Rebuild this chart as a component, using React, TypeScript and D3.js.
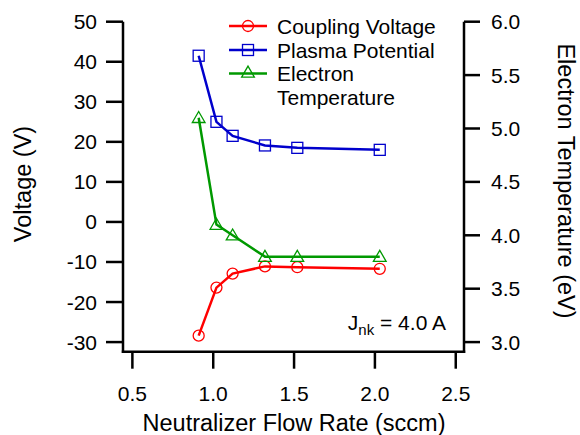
import React from "react";
import * as d3 from "d3";

const flowRate = [0.91, 1.02, 1.12, 1.32, 1.52, 2.03];
const couplingVoltage = [-28.4, -16.4, -12.9, -11.1, -11.3, -11.7];
const plasmaPotential = [41.5, 25.0, 21.5, 19.1, 18.5, 18.0];
const electronTemp = [5.1, 4.1, 4.0, 3.8, 3.8, 3.8];
const xTicks = [0.5, 1.0, 1.5, 2.0, 2.5];
const yLeftTicks = [50, 40, 30, 20, 10, 0, -10, -20, -30];
const yRightTicks = [6.0, 5.5, 5.0, 4.5, 4.0, 3.5, 3.0];
const legendLabels = ["Coupling Voltage", "Plasma Potential", "Electron", "Temperature"];

const W = 580, H = 435;
const L = 123, R = 464, T = 21.7, B = 351.7;
const FONT = "'Liberation Sans', Arial, Helvetica, sans-serif";
const FS = 21;
const TFS = 23.5;
const RED = "#ff0000", BLUE = "#0000cc", GREEN = "#009900";

export default function App() {
  const x = d3.scaleLinear().domain([0.442, 2.551]).range([L, R]);
  const yL = d3.scaleLinear().domain([-32.4, 50]).range([B, T]);
  const yR = d3.scaleLinear().domain([2.91, 6.0]).range([B, T]);

  const lineL = d3.line<number>().x((_, i) => x(flowRate[i])).y((d) => yL(d));
  const lineR = d3.line<number>().x((_, i) => x(flowRate[i])).y((d) => yR(d));

  const tri = d3.symbol().type(d3.symbolTriangle).size(70)();

  const circle = (cx: number, cy: number, k: string) => (
    <circle key={k} cx={cx} cy={cy} r={5.5} fill="none" stroke={RED} strokeWidth={1.3} />
  );
  const square = (cx: number, cy: number, k: string) => (
    <rect key={k} x={cx - 5.5} y={cy - 5.5} width={11} height={11} fill="none" stroke={BLUE} strokeWidth={1.3} />
  );
  const triangle = (cx: number, cy: number, k: string) => (
    <path key={k} d={tri || ""} transform={`translate(${cx},${cy + 1})`} fill="none" stroke={GREEN} strokeWidth={1.3} />
  );

  const legX0 = 229, legX1 = 267, legTX = 277;
  const legRows = [26, 50, 73.5];

  return (
    <svg width={W} height={H} style={{ position: "absolute", left: 0, top: 0, background: "#fff" }} fontFamily={FONT}>
      <rect width={W} height={H} fill="#fff" />
      {/* axes */}
      <g stroke="#000" strokeWidth={2.5} fill="none">
        <line x1={L} y1={T} x2={L} y2={B + 1.2} />
        <line x1={R} y1={T} x2={R} y2={B + 1.2} />
        <line x1={L - 1.2} y1={B} x2={R + 1.2} y2={B} />
        {yLeftTicks.map((t) => (
          <line key={"yl" + t} x1={L - 17} x2={L} y1={yL(t)} y2={yL(t)} />
        ))}
        {yRightTicks.map((t) => (
          <line key={"yr" + t} x1={R} x2={R + 16} y1={yR(t)} y2={yR(t)} />
        ))}
        {xTicks.map((t) => (
          <line key={"x" + t} x1={x(t)} x2={x(t)} y1={B} y2={B + 17} />
        ))}
      </g>
      <g fontSize={FS} fill="#000">
        {yLeftTicks.map((t) => (
          <text key={"tl" + t} x={97} y={yL(t) + 7.5} textAnchor="end">{t}</text>
        ))}
        {yRightTicks.map((t) => (
          <text key={"tr" + t} x={491} y={yR(t) + 7.5} textAnchor="start">{t.toFixed(1)}</text>
        ))}
        {xTicks.map((t) => (
          <text key={"tx" + t} x={x(t)} y={401} textAnchor="middle">{t.toFixed(1)}</text>
        ))}
        <text x={294} y={431} fontSize={TFS} textAnchor="middle">Neutralizer Flow Rate (sccm)</text>
        <text transform={`translate(31,184) rotate(-90)`} fontSize={TFS} textAnchor="middle">Voltage (V)</text>
        <text transform={`translate(558,181) rotate(90)`} fontSize={TFS} textAnchor="middle">Electron Temperature (eV)</text>
        <text x={446} y={330} textAnchor="end">
          J<tspan fontSize={15} dy={5}>nk</tspan><tspan dy={-5}> = 4.0 A</tspan>
        </text>
      </g>
      {/* data lines */}
      <path d={lineL(plasmaPotential) || ""} fill="none" stroke={BLUE} strokeWidth={2.5} />
      <path d={lineR(electronTemp) || ""} fill="none" stroke={GREEN} strokeWidth={2.5} />
      <path d={lineL(couplingVoltage) || ""} fill="none" stroke={RED} strokeWidth={2.5} />
      {couplingVoltage.map((v, i) => circle(x(flowRate[i]), yL(v), "c" + i))}
      {plasmaPotential.map((v, i) => square(x(flowRate[i]), yL(v), "s" + i))}
      {electronTemp.map((v, i) => triangle(x(flowRate[i]), yR(v), "t" + i))}
      {/* legend */}
      <g>
        <line x1={legX0} x2={legX1} y1={legRows[0]} y2={legRows[0]} stroke={RED} strokeWidth={2.5} />
        {circle((legX0 + legX1) / 2, legRows[0], "lc")}
        <line x1={legX0} x2={legX1} y1={legRows[1]} y2={legRows[1]} stroke={BLUE} strokeWidth={2.5} />
        {square((legX0 + legX1) / 2, legRows[1], "ls")}
        <line x1={legX0} x2={legX1} y1={legRows[2]} y2={legRows[2]} stroke={GREEN} strokeWidth={2.5} />
        {triangle((legX0 + legX1) / 2, legRows[2] - 1, "lt")}
        <g fontSize={FS} fill="#000">
          <text x={legTX} y={legRows[0] + 7.5}>{legendLabels[0]}</text>
          <text x={legTX} y={legRows[1] + 7.5}>{legendLabels[1]}</text>
          <text x={legTX} y={legRows[2] + 7.5}>{legendLabels[2]}</text>
          <text x={legTX} y={legRows[2] + 31}>{legendLabels[3]}</text>
        </g>
      </g>
    </svg>
  );
}
